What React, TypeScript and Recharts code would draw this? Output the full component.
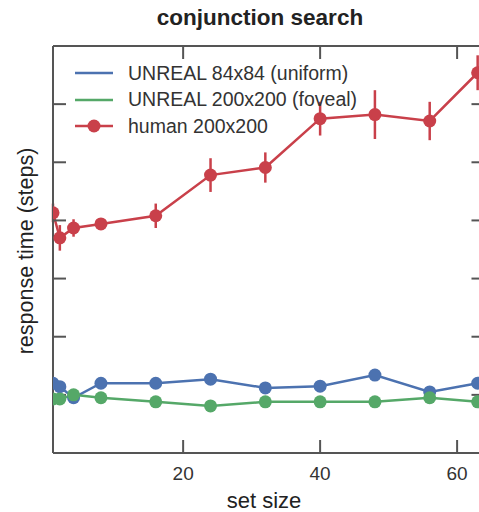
import React from 'react';
import { ComposedChart, Line, XAxis, YAxis, ErrorBar, Legend, Label, ReferenceLine } from 'recharts';

const setSizes = [1, 2, 4, 8, 16, 24, 32, 40, 48, 56, 63];
const unreal84 = [12.0, 11.4, 9.5, 12.0, 12.0, 12.7, 11.2, 11.5, 13.4, 10.5, 12.0];
const unreal200 = [9.3, 9.3, 10.0, 9.5, 8.8, 8.1, 8.8, 8.8, 8.8, 9.5, 8.8];
const human = [41.3, 37.0, 38.7, 39.4, 40.8, 47.8, 49.1, 57.5, 58.2, 57.1, 65.4];
const humanErr = [1.6, 2.2, 1.5, 0.9, 2.1, 2.9, 2.6, 2.9, 4.2, 3.3, 3.0];
const xTicks = [20, 40, 60];
const yTicks = [0, 10, 20, 30, 40, 50, 60, 70];
const xDomain = [1, 64];

const seriesNames = ['UNREAL 84x84 (uniform)', 'UNREAL 200x200 (foveal)', 'human 200x200'];
const seriesColors = ['#4c72b0', '#55a868', '#c9404a'];
const seriesMarker = [false, false, true];

const data = setSizes.map((x, i) => ({
  x,
  u84: unreal84[i],
  u200: unreal200[i],
  human: human[i],
  humanErr: humanErr[i],
}));

const FONT = '"Liberation Sans", Arial, sans-serif';
const FRAME = '#555555';
// inward tick length on the right border, in x-axis units (about 13 px)
const RIGHT_TICK_LEN = 1.9;

const renderLegend = () => (
  <div style={{ fontFamily: FONT, fontSize: 19.5, color: '#333' }}>
    {seriesNames.map((name, i) => (
      <div key={name} style={{ display: 'flex', alignItems: 'center', height: 26.5 }}>
        <svg width={40} height={20} style={{ display: 'block' }}>
          <line x1={1} y1={10} x2={39} y2={10} stroke={seriesColors[i]} strokeWidth={2.5} />
          {seriesMarker[i] && <circle cx={20} cy={10} r={6.5} fill={seriesColors[i]} />}
        </svg>
        <span style={{ marginLeft: 14, whiteSpace: 'nowrap' }}>{name}</span>
      </div>
    ))}
  </div>
);

export default function App() {
  return (
    <div style={{ position: 'absolute', left: 0, top: 0, width: 479, height: 512, overflow: 'hidden', background: '#fff' }}>
      <ComposedChart width={500} height={512} data={data} margin={{ top: 45, right: 15.5, bottom: 58, left: 52 }}>
        <XAxis
          xAxisId="b"
          type="number"
          dataKey="x"
          domain={xDomain}
          ticks={xTicks}
          interval={0}
          allowDataOverflow
          height={1}
          tickSize={-13}
          tickMargin={27}
          tick={{ fill: '#333', fontSize: 19, fontFamily: FONT }}
          axisLine={{ stroke: FRAME, strokeWidth: 2 }}
          tickLine={{ stroke: FRAME, strokeWidth: 2 }}
        >
          <Label
            content={() => (
              <text x={264} y={508} textAnchor="middle" fontFamily={FONT} fontSize={22} fill="#222">
                set size
              </text>
            )}
          />
        </XAxis>
        <XAxis
          xAxisId="t"
          orientation="top"
          type="number"
          dataKey="x"
          domain={xDomain}
          ticks={xTicks}
          interval={0}
          allowDataOverflow
          height={1}
          tickSize={-13}
          tickFormatter={() => ''}
          axisLine={{ stroke: FRAME, strokeWidth: 2 }}
          tickLine={{ stroke: FRAME, strokeWidth: 2 }}
        >
          <Label
            content={() => (
              <text x={260} y={25} textAnchor="middle" fontFamily={FONT} fontSize={22.5} fontWeight="bold" fill="#222">
                conjunction search
              </text>
            )}
          />
        </XAxis>
        <YAxis
          yAxisId="l"
          type="number"
          domain={[0, 70]}
          ticks={yTicks}
          interval={0}
          width={1}
          tickSize={-13}
          tickFormatter={() => ''}
          axisLine={{ stroke: FRAME, strokeWidth: 2 }}
          tickLine={{ stroke: FRAME, strokeWidth: 2 }}
        >
          <Label
            content={() => (
              <text
                x={33}
                y={251}
                transform="rotate(-90 33 251)"
                textAnchor="middle"
                fontFamily={FONT}
                fontSize={21.5}
                fill="#222"
              >
                response time (steps)
              </text>
            )}
          />
        </YAxis>
        {yTicks.map((v) => (
          <ReferenceLine
            key={`rt${v}`}
            xAxisId="b"
            yAxisId="l"
            segment={[
              { x: xDomain[1] - RIGHT_TICK_LEN, y: v },
              { x: xDomain[1], y: v },
            ]}
            stroke={FRAME}
            strokeWidth={2}
            ifOverflow="visible"
          />
        ))}
        <Legend
          layout="vertical"
          align="center"
          verticalAlign="middle"
          content={renderLegend}
          wrapperStyle={{ left: 74, top: 60, width: 320, height: 80 }}
        />
        <Line
          xAxisId="b"
          yAxisId="l"
          dataKey="u84"
          name={seriesNames[0]}
          stroke={seriesColors[0]}
          strokeWidth={2.5}
          dot={{ r: 6.5, fill: seriesColors[0], stroke: seriesColors[0], strokeWidth: 0 }}
          activeDot={false}
          isAnimationActive={false}
        />
        <Line
          xAxisId="b"
          yAxisId="l"
          dataKey="u200"
          name={seriesNames[1]}
          stroke={seriesColors[1]}
          strokeWidth={2.5}
          dot={{ r: 6.5, fill: seriesColors[1], stroke: seriesColors[1], strokeWidth: 0 }}
          activeDot={false}
          isAnimationActive={false}
        />
        <Line
          xAxisId="b"
          yAxisId="l"
          dataKey="human"
          name={seriesNames[2]}
          stroke={seriesColors[2]}
          strokeWidth={2.5}
          dot={{ r: 6.5, fill: seriesColors[2], stroke: seriesColors[2], strokeWidth: 0 }}
          activeDot={false}
          isAnimationActive={false}
        >
          <ErrorBar dataKey="humanErr" direction="y" width={0} stroke={seriesColors[2]} strokeWidth={2.5} isAnimationActive={false} />
        </Line>
      </ComposedChart>
    </div>
  );
}
